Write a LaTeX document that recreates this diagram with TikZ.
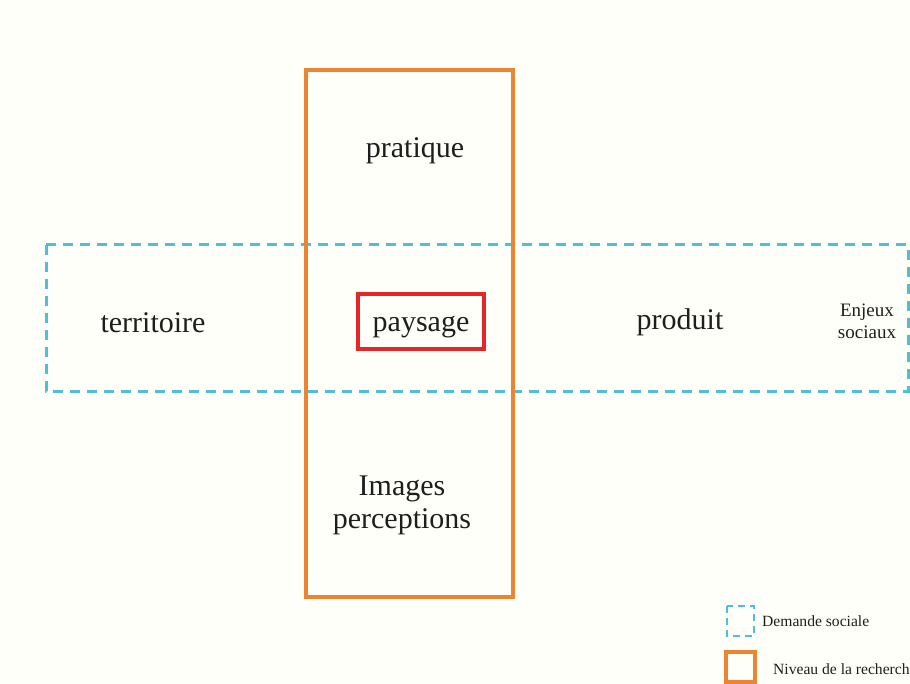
\documentclass[tikz,border=0pt]{standalone}
\usepackage{fontspec}
\setmainfont{Liberation Serif}
\definecolor{orng}{RGB}{236,132,50}
\definecolor{blu}{RGB}{80,190,215}
\definecolor{rd}{RGB}{228,38,38}
\definecolor{txt}{RGB}{30,30,30}
\tikzset{
  big/.style={font=\fontsize{30}{33}\selectfont, text=txt, inner sep=0pt, align=center},
  mid/.style={font=\fontsize{19}{22}\selectfont, text=txt, inner sep=0pt, align=center},
  small/.style={font=\fontsize{15.6}{17}\selectfont, text=txt, inner sep=0pt, anchor=west},
  orangebox/.style={draw=orng, line width=3.3pt},
  bluebox/.style={draw=blu, line width=3pt, dash pattern=on 10pt off 7pt},
  redbox/.style={draw=rd, line width=4.5pt}
}
\begin{document}
\begin{tikzpicture}[x=1pt,y=-1pt]
\useasboundingbox (0,0) rectangle (910,684);
\clip (0,0) rectangle (910,684);
\fill[white!98!yellow] (0,0) rectangle (910,684);
\draw[bluebox] (46,245) rectangle (908,391);
\draw[orangebox] (306,70) rectangle (513,597);
\draw[redbox] (358,294) rectangle (484,349);
\node[big] (pratique) at (415,151) {pratique};
\node[big] (territoire) at (153,323) {territoire};
\node[big] (paysage) at (421,327) {paysage};
\node[big] (produit) at (680,322) {produit};
\node[mid] (enjeux) at (867,321) {Enjeux\\sociaux};
\node[big] (images) at (402,505) {Images\\perceptions};
\draw[bluebox, line width=2.5pt, dash pattern=on 7pt off 5pt] (727,606) rectangle (754,636);
\node[small] (demande) at (762,621) {Demande sociale};
\draw[orangebox] (726,652) rectangle (755,682);
\node[small] (niveau) at (773,669) {Niveau de la recherche};
\end{tikzpicture}
\end{document}
